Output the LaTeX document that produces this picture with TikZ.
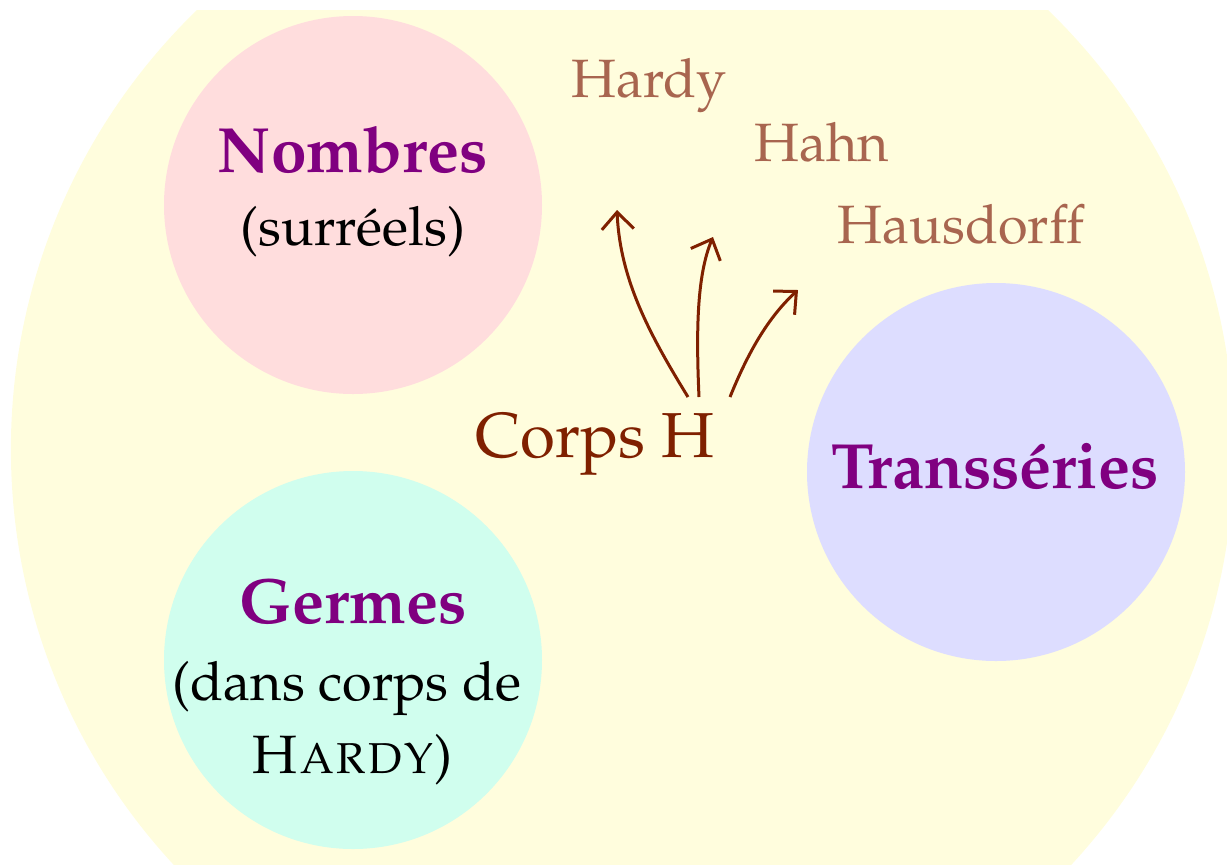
\documentclass[tikz,border=0pt]{standalone}
\usepackage[T1]{fontenc}
\usepackage{mathpazo}
\usetikzlibrary{arrows.meta}

\definecolor{fieldbg}{HTML}{FFFDDD}
\definecolor{nombresbg}{HTML}{FFDDDD}
\definecolor{germesbg}{HTML}{D0FEEE}
\definecolor{transbg}{HTML}{DDDDFF}
\definecolor{titlepurple}{HTML}{800080}
\definecolor{corpsbrown}{HTML}{7F2000}
\definecolor{namebrown}{HTML}{A8654F}

\tikzset{
  family/.style={circle, draw=none, minimum size=189pt, inner sep=0pt},
  title/.style={anchor=base, text=titlepurple, font=\fontsize{32}{38}\selectfont\bfseries},
  gloss/.style={anchor=base, text=black, font=\fontsize{27}{33}\selectfont},
  author/.style={anchor=base, text=namebrown, font=\fontsize{27}{33}\selectfont},
  ext/.style={draw=corpsbrown, line width=1.5pt, -{Straight Barb[length=8.5pt,width=16pt,line width=1.5pt]}}
}

\begin{document}
\begin{tikzpicture}[x=0.5pt, y=-0.5pt]
  \useasboundingbox (0,0) rectangle (1227,864);

  % the surrounding field, cut off along the top edge
  \begin{scope}
    \clip (0,10) rectangle (1227,864);
    \fill[fieldbg] (622.5,449.3) circle[radius=611.6];
  \end{scope}

  % the three families inside it
  \node[family, fill=nombresbg] (nombresdisc) at (353,205) {};
  \node[family, fill=germesbg]  (germesdisc)  at (353,660) {};
  \node[family, fill=transbg]   (transdisc)   at (996,472) {};

  \node[title] (nombres) at (353,172) {Nombres};
  \node[gloss] (surreels) at (353,245) {(surr\'eels)};

  \node[title] (germes) at (353,623) {Germes};
  \node[gloss] (dans) at (347,700) {(dans corps de};
  \node[gloss] (hardysc) at (352,773) {\textsc{Hardy})};

  \node[title] (trans) at (995,488) {Transs\'eries};

  % H-fields and the three names
  \node[anchor=base, text=corpsbrown, font=\fontsize{31.8}{38}\selectfont] (corps) at (595,457) {Corps H};

  \node[author] (hardy) at (649,97) {Hardy};
  \node[author] (hahn) at (822,161) {Hahn};
  \node[author] (hausdorff) at (961,243) {Hausdorff};

  \coordinate (s1) at (688,397);
  \coordinate (s2) at (699,397);
  \coordinate (s3) at (730,397);
  \coordinate (t1) at (617,210);
  \coordinate (t2) at (713,237);
  \coordinate (t3) at (798,290);

  \draw[ext] (s1) .. controls (650,335) and (620,280) .. (t1);
  \draw[ext] (s2) .. controls (696,330) and (697,275) .. (t2);
  \draw[ext] (s3) .. controls (745,360) and (765,320) .. (t3);
\end{tikzpicture}
\end{document}
